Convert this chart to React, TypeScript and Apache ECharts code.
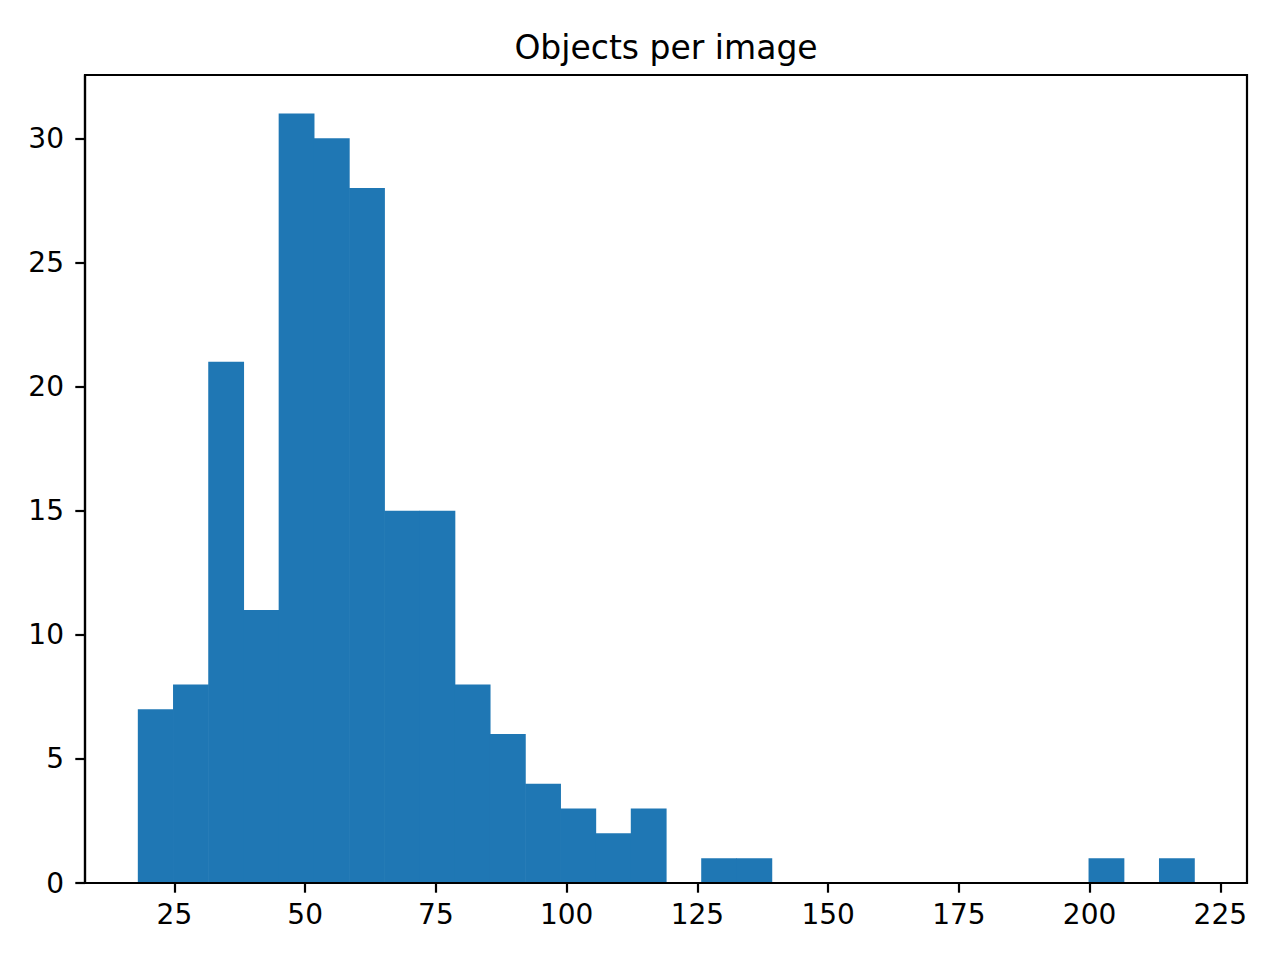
import * as echarts from 'echarts';
import { useEffect, useRef } from 'react';

// histogram: 30 bins between 18 and 220
const binStart = 18;
const binEnd = 220;
const binCounts = [
  7, 8, 21, 11, 31, 30, 28, 15, 15, 8, 6, 4, 3, 2, 3, 0, 1, 1, 0, 0, 0, 0, 0, 0, 0,
  0, 0, 1, 0, 1,
];
const xTicks = [25, 50, 75, 100, 125, 150, 175, 200, 225];
const yTicks = [0, 5, 10, 15, 20, 25, 30];

const font = 'DejaVu Sans';

function App() {
  const chartRef = useRef<HTMLDivElement>(null);

  useEffect(() => {
    document.body.style.margin = '0';
    const myChart = echarts.init(chartRef.current, null, { renderer: 'svg' });

    const binWidth = (binEnd - binStart) / binCounts.length;
    const bins = binCounts.map((c, i) => [
      binStart + i * binWidth,
      binStart + (i + 1) * binWidth,
      c,
    ]);

    const option = {
      animation: false,
      backgroundColor: '#fff',
      title: {
        text: 'Objects per image',
        left: 661,
        textAlign: 'center',
        top: 26,
        textStyle: {
          fontFamily: font,
          fontSize: 33,
          fontWeight: 'normal',
          color: '#000',
        },
      },
      grid: {
        left: 85,
        right: 33,
        top: 75,
        bottom: 77,
        show: true,
        borderColor: '#000',
        borderWidth: 2.2,
      },
      xAxis: {
        type: 'value',
        min: 7.9,
        max: 230.1,
        z: 10,
        splitLine: { show: false },
        axisLine: { show: true, lineStyle: { color: '#000', width: 2.2 } },
        axisTick: {
          show: true,
          length: 9.7,
          customValues: xTicks,
          lineStyle: { color: '#000', width: 2.2 },
        },
        axisLabel: {
          customValues: xTicks,
          margin: 17,
          color: '#000',
          fontFamily: font,
          fontSize: 28,
        },
      },
      yAxis: {
        type: 'value',
        min: 0,
        max: 32.55,
        z: 10,
        splitLine: { show: false },
        axisLine: { show: true, lineStyle: { color: '#000', width: 2.2 } },
        axisTick: {
          show: true,
          length: 9.7,
          customValues: yTicks,
          lineStyle: { color: '#000', width: 2.2 },
        },
        axisLabel: {
          customValues: yTicks,
          margin: 21,
          color: '#000',
          fontFamily: font,
          fontSize: 28,
        },
      },
      series: [
        {
          type: 'custom',
          encode: { x: [0, 1], y: 2 },
          data: bins,
          renderItem: (params: any, api: any) => {
            const topLeft = api.coord([api.value(0), api.value(2)]);
            const bottomRight = api.coord([api.value(1), 0]);
            // small overlap hides anti-aliasing seams between neighbouring bins
            return {
              type: 'rect',
              shape: {
                x: topLeft[0],
                y: topLeft[1],
                width: bottomRight[0] - topLeft[0] + 0.6,
                height: bottomRight[1] - topLeft[1],
              },
              style: { fill: '#1f77b4' },
            };
          },
        },
      ],
    };

    myChart.setOption(option);

    return () => {
      myChart.dispose();
    };
  }, []);

  return <div ref={chartRef} style={{ width: '1280px', height: '960px' }}></div>;
}

export default App;
